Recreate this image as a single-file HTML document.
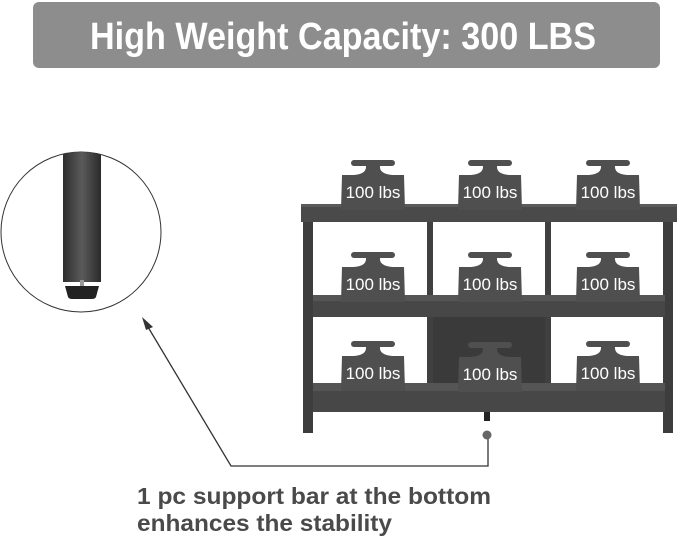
<!DOCTYPE html>
<html><head><meta charset="utf-8"><style>
html,body{margin:0;padding:0;background:#fff;width:679px;height:539px;overflow:hidden}
svg{display:block}
</style></head><body>
<svg width="679" height="539" viewBox="0 0 679 539" xmlns="http://www.w3.org/2000/svg" font-family="Liberation Sans, Arial, sans-serif">
<defs>
<linearGradient id="leg" x1="0" x2="1">
<stop offset="0" stop-color="#2e2e2e"/><stop offset="0.5" stop-color="#5a5a5a"/><stop offset="1" stop-color="#2a2a2a"/>
</linearGradient>
<clipPath id="cc"><circle cx="81" cy="232" r="80"/></clipPath>
<g id="w" fill="#4f4f4f">
<rect x="-22" y="0" width="44" height="6" rx="3"/>
<path d="M-7 5 h14 v2 q0 7 12 8 h-38 q12 -1 12 -8 z"/>
<path d="M-31 15 h62 l1 35 h-64 z"/>
</g>
</defs>
<rect x="33" y="2" width="627" height="66" rx="6" fill="#8d8d8d"/>
<text x="90" y="49" font-size="38" font-weight="bold" fill="#fff" textLength="506" lengthAdjust="spacingAndGlyphs">High Weight Capacity: 300 LBS</text>

<!-- circle inset -->
<circle cx="81" cy="232" r="80" fill="#fff" stroke="#333" stroke-width="1"/>
<g clip-path="url(#cc)">
<rect x="63" y="150" width="38" height="132" fill="url(#leg)"/>
<rect x="80" y="280" width="4" height="7" fill="#999"/>
<path d="M65 286 h34 l-3 11 q-1 2 -4 2 h-20 q-3 0 -4 -2 z" fill="#222"/>
</g>

<!-- shelf -->
<rect x="433" y="317" width="112" height="70" fill="#3a3a3a"/>
<rect x="303" y="215" width="10" height="218" fill="#3d3d3d"/>
<rect x="663" y="215" width="10" height="218" fill="#3d3d3d"/>
<rect x="427" y="220" width="6" height="170" fill="#404040"/>
<rect x="545" y="220" width="6" height="170" fill="#404040"/>
<rect x="301" y="204" width="376" height="18" fill="#4a4a4a"/>
<rect x="301" y="204" width="376" height="3" fill="#5a5a5a"/>
<rect x="313" y="295" width="352" height="22" fill="#474747"/>
<rect x="313" y="295" width="352" height="6" fill="#555"/>
<rect x="313" y="383" width="352" height="29" fill="#474747"/>
<rect x="313" y="383" width="352" height="8" fill="#555"/>
<rect x="484" y="412" width="6" height="9" fill="#222"/>

<!-- weights -->
<g font-size="17" fill="#fff" text-anchor="middle">
<use href="#w" x="373" y="160"/><text x="373" y="198">100 lbs</text>
<use href="#w" x="490" y="160"/><text x="490" y="198">100 lbs</text>
<use href="#w" x="608" y="160"/><text x="608" y="198">100 lbs</text>
<use href="#w" x="373" y="252"/><text x="373" y="290">100 lbs</text>
<use href="#w" x="490" y="252"/><text x="490" y="290">100 lbs</text>
<use href="#w" x="608" y="252"/><text x="608" y="290">100 lbs</text>
<use href="#w" x="373" y="341"/><text x="373" y="379">100 lbs</text>
<use href="#w" x="490" y="342"/><text x="490" y="380">100 lbs</text>
<use href="#w" x="608" y="341"/><text x="608" y="379">100 lbs</text>
</g>

<!-- callout -->
<polyline points="145,322 231,466 488,466 488,438" fill="none" stroke="#333" stroke-width="1.3"/>
<polygon points="142,317 153,327 146,330" fill="#333"/>
<circle cx="487" cy="435" r="4.5" fill="#666"/>
<g font-size="23" font-weight="bold" fill="#4a4a4a">
<text x="137" y="504" textLength="354" lengthAdjust="spacingAndGlyphs">1 pc support bar at the bottom</text>
<text x="137" y="531" textLength="255" lengthAdjust="spacingAndGlyphs">enhances the stability</text>
</g>
</svg>
</body></html>
